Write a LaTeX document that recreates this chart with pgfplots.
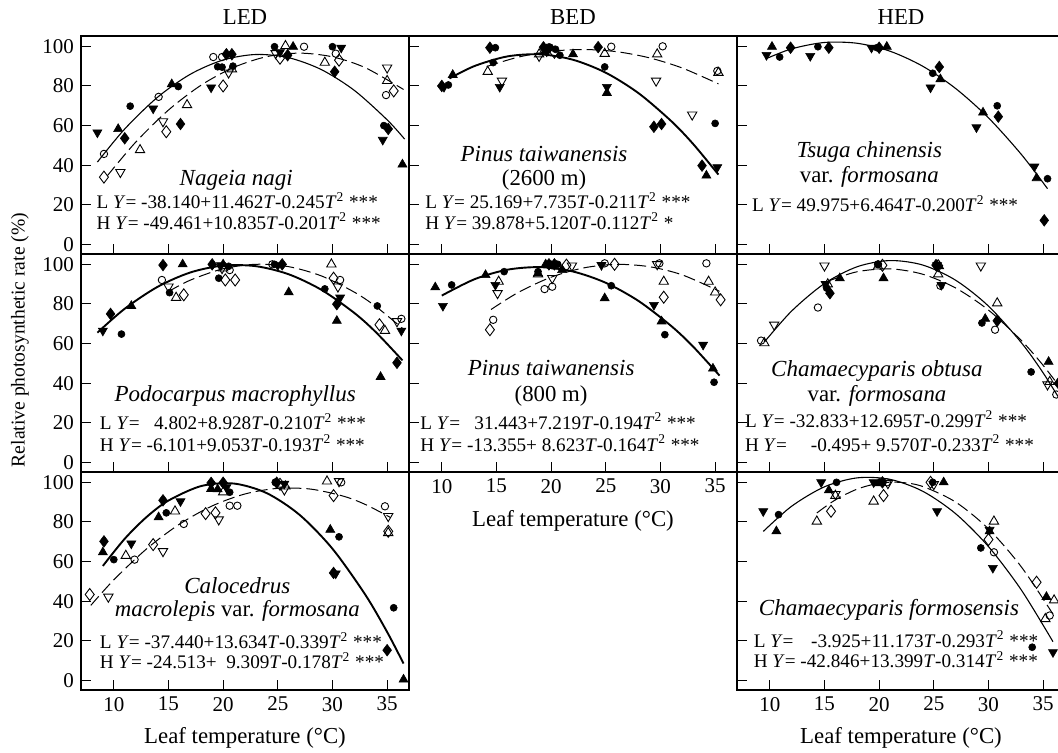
\documentclass[border=0pt]{standalone}
\usepackage{pgfplots}
\pgfplotsset{compat=1.18}
\usepackage{fontspec}
\setmainfont{Liberation Serif}
\newcommand\fT{\fontsize{10.5}{12}\selectfont}
\newcommand\fE{\fontsize{9.6}{11}\selectfont}
\newcommand\fS{\fontsize{11.5}{13}\selectfont\itshape}
\newcommand\fL{\fontsize{11.4}{13}\selectfont}
\newcommand\fY{\fontsize{9.8}{11}\selectfont}
\newcommand\Y{\textit{Y}}
\newcommand\T{\textit{T}}
\newcommand\TT{\textit{T}\textsuperscript{2}}
\tikzset{eqn/.style={font=\fE, anchor=west, inner sep=0pt}}
\pgfplotsset{
 panel/.style={
  width=164pt, height=109pt, scale only axis,
  xmin=7, xmax=37, ymin=-4.8, ymax=105.2,
  xtick={10,15,...,35}, ytick={0,20,...,100},
  tick align=inside, xtick pos=bottom, ytick pos=left,
  major tick length=5pt,
  axis line style={line width=0.6pt},
  tick style={line width=0.5pt, black},
  ticklabel style={font=\fT},
  /pgf/number format/assume math mode=true,
  clip=false, anchor=north west,
 },
 noxl/.style={xticklabels={}},
 noyl/.style={yticklabels={}},
 Lc/.style={only marks, mark=*, mark size=1.75pt, mark options={draw=black, fill=black, line width=0.3pt}},
 Lu/.style={only marks, mark=triangle*, mark size=2.6pt, mark options={draw=black, fill=black, line width=0.3pt}},
 Ld/.style={only marks, mark=triangle*, mark size=2.6pt, mark options={draw=black, fill=black, line width=0.3pt, rotate=180}},
 Lm/.style={only marks, mark=diamond*, mark size=2.9pt, mark options={draw=black, fill=black, line width=0.3pt}},
 Hc/.style={only marks, mark=o, mark size=1.85pt, mark options={draw=black, line width=0.45pt}},
 Hu/.style={only marks, mark=triangle, mark size=2.7pt, mark options={draw=black, line width=0.45pt}},
 Hd/.style={only marks, mark=triangle, mark size=2.7pt, mark options={draw=black, line width=0.45pt, rotate=180}},
 Hm/.style={only marks, mark=diamond, mark size=3pt, mark options={draw=black, line width=0.45pt}},
 Lthin/.style={black, line width=0.55pt, smooth, no marks},
 Lthick/.style={black, line width=0.95pt, smooth, no marks},
 Hfit/.style={black, line width=0.5pt, dash pattern=on 6pt off 2.5pt, smooth, no marks},
}
\begin{document}
\begin{tikzpicture}
% ---------- Row 1, LED: Nageia nagi
\begin{axis}[panel, noxl, at={(40.5pt,-18pt)}]
\addplot[Lthin] coordinates {(8.5,41.59) (11,58.30) (14,74.31) (17,85.91) (20,93.10) (23,95.88) (26,94.25) (29,88.21) (32,77.76) (35,62.91) (36.6,53.18)};
\addplot[Hfit] coordinates {(9.4,34.63) (12,51.62) (15,67.84) (18,80.45) (21,89.43) (24,94.80) (27,96.56) (30,94.69) (33,89.21) (36.5,78.23)};
\addplot[Lc] coordinates {(11.5,69.8) (15.9,79.7) (19.5,89.7) (19.9,89.5) (20.9,90.0) (24.7,99.8) (30.0,99.8) (34.7,60.0)};
\addplot[Lu] coordinates {(10.4,58.3) (15.3,80.9) (26.4,99.8) (36.4,40.4)};
\addplot[Ld] coordinates {(8.5,56.5) (13.6,68.6) (18.9,79.2) (25.2,97.0) (30.8,99.3) (34.6,52.8)};
\addplot[Lm] coordinates {(11.0,53.6) (16.1,60.8) (20.3,96.0) (20.8,96.0) (25.9,95.5) (30.2,87.2) (35.1,58.3)};
\addplot[Hc] coordinates {(9.1,45.7) (14.1,74.5) (19.1,94.6) (19.9,94.6) (27.4,99.8) (30.3,96.3) (34.9,75.4)};
\addplot[Hu] coordinates {(12.4,47.7) (16.7,70.4) (20.8,88.5) (25.7,100.2) (29.3,91.8) (35.0,82.6)};
\addplot[Hd] coordinates {(10.6,36.5) (14.5,62.1) (20.5,86.7) (24.8,96.5) (35.0,89.2)};
\addplot[Hm] coordinates {(9.1,34.0) (14.8,56.9) (20.0,80.0) (25.2,94.0) (30.6,93.0) (35.6,77.5)};
\node[font=\fS] at (axis cs:21.2,32.6) {Nageia nagi};
\node[eqn] at (axis cs:8.4,22.0) {L \Y= -38.140+11.462\T-0.245\TT\ ***};
\node[eqn] at (axis cs:8.4,11.8) {H \Y= -49.461+10.835\T-0.201\TT\ ***};
\end{axis}
% ---------- Row 1, BED: Pinus taiwanensis 2600 m
\begin{axis}[panel, noxl, noyl, at={(204.5pt,-18pt)}]
\addplot[Lthick] coordinates {(10.7,83.78) (13,90.07) (16,94.91) (19,95.96) (22,93.22) (25,86.67) (28,76.33) (31,62.18) (33,50.65) (35.3,35.29)};
\addplot[Hfit] coordinates {(14.1,89.80) (17,94.55) (20,97.48) (23,98.39) (26,97.29) (29,94.17) (32,89.03) (35.3,81.05)};
\addplot[Lc] coordinates {(10.6,80.5) (14.9,99.3) (14.7,91.8) (19.9,99.5) (20.4,98.5) (20.8,95.5) (24.9,89.6) (35.0,61.1)};
\addplot[Lu] coordinates {(11.0,85.6) (19.5,98.0) (22.0,96.0) (25.1,76.5) (34.2,34.8)};
\addplot[Ld] coordinates {(10.2,79.5) (15.3,79.5) (19.6,97.5) (25.1,79.5) (35.2,39.0)};
\addplot[Lm] coordinates {(10.0,80.0) (14.4,99.3) (19.3,99.5) (24.3,99.6) (29.4,59.4) (30.1,60.8) (33.8,39.8)};
\addplot[Hc] coordinates {(19.8,99.5) (25.5,99.8) (30.2,100.0) (35.2,87.6)};
\addplot[Hu] coordinates {(14.2,87.2) (18.9,96.0) (24.9,96.3) (29.7,96.0) (35.3,86.7)};
\addplot[Hd] coordinates {(15.5,82.6) (18.9,95.1) (29.6,82.6) (32.9,65.5)};
\addplot[Hm] coordinates {(19.6,98.0) (20.3,97.0)};
\node[font=\fS] at (axis cs:19.35,45.8) {Pinus taiwanensis};
\node[font=\fL] at (axis cs:19.35,32.3) {(2600 m)};
\node[eqn] at (axis cs:8.45,22.0) {L \Y= 25.169+7.735\T-0.211\TT\ ***};
\node[eqn] at (axis cs:8.45,11.8) {H \Y= 39.878+5.120\T-0.112\TT\ *};
\end{axis}
% ---------- Row 1, HED: Tsuga chinensis var. formosana
\begin{axis}[panel, noxl, noyl, at={(368.5pt,-18pt)}]
\addplot[Lthin] coordinates {(9.6,93.60) (12,98.74) (15,101.94) (18,101.53) (21,97.52) (24,89.91) (27,78.70) (30,63.90) (33,45.49) (35.4,28.17)};
\addplot[Lc] coordinates {(10.9,94.6) (14.4,99.8) (19.8,99.3) (24.9,86.4) (30.8,70.0) (35.4,33.2)};
\addplot[Lu] coordinates {(10.2,99.8) (20.7,99.8) (25.6,83.4) (29.5,66.6) (34.4,33.5)};
\addplot[Ld] coordinates {(9.7,95.6) (13.7,95.1) (19.3,99.3) (24.7,79.2) (28.9,59.1) (34.2,39.3)};
\addplot[Lm] coordinates {(11.9,99.3) (15.4,99.3) (20.0,99.3) (25.5,89.6) (30.9,64.5) (35.1,12.2)};
\node[font=\fS] at (axis cs:19.1,46.5) {Tsuga chinensis};
\node[font=\fL] at (axis cs:19.1,34.0) {var. \textit{formosana}};
\node[eqn] at (axis cs:8.35,20.6) {L \Y= 49.975+6.464\T-0.200\TT\ ***};
\end{axis}
% ---------- Row 2, LED: Podocarpus macrophyllus
\begin{axis}[panel, noxl, at={(40.5pt,-127pt)}]
\addplot[Lthick] coordinates {(8.5,65.52) (11,77.60) (14,88.63) (17,95.89) (20,99.36) (23,99.06) (26,94.97) (29,87.10) (32,75.46) (34,65.59) (36.4,51.54)};
\addplot[Hfit] coordinates {(15,86.27) (17,92.02) (20,97.76) (23,100.02) (26,98.81) (29,94.12) (32,85.96) (34,78.59) (36.4,67.71)};
\addplot[Lc] coordinates {(10.7,64.8) (15.1,85.7) (19.6,93.0) (20.5,99.0) (24.7,100) (29.3,87.6) (34.1,79.0)};
\addplot[Lu] coordinates {(11.6,79.0) (16.3,100) (20.0,100) (26.0,85.9) (30.4,71.5) (34.4,43.2)};
\addplot[Ld] coordinates {(9.0,66.5) (19.8,99.5) (25.0,99.5) (30.7,83.2) (36.3,66.5)};
\addplot[Lm] coordinates {(9.7,75.0) (14.5,99.6) (19.0,100) (25.4,100) (30.4,79.9) (35.9,50.3)};
\addplot[Hc] coordinates {(14.4,92.1) (20.6,97.1) (24.5,100) (30.7,92.1) (36.3,72.5)};
\addplot[Hu] coordinates {(15.7,83.2) (20.0,98.0) (29.9,100) (34.8,66.5)};
\addplot[Hd] coordinates {(15.0,88.7) (19.9,98.0) (30.5,88.7) (35.9,71.2)};
\addplot[Hm] coordinates {(16.4,84.6) (20.2,92.1) (21.1,92.1) (30.1,93.0) (34.3,69.5)};
\node[font=\fS] at (axis cs:21.1,33.5) {Podocarpus macrophyllus};
\node[eqn] at (axis cs:8.7,20.6) {L \Y= \hphantom{-}\,4.802+8.928\T-0.210\TT\ ***};
\node[eqn] at (axis cs:8.7,9.7) {H \Y= -6.101+9.053\T-0.193\TT\ ***};
\end{axis}
% ---------- Row 2, BED: Pinus taiwanensis 800 m
\begin{axis}[panel, noyl, at={(204.5pt,-127pt)}]
\addplot[Lthick] coordinates {(10,84.23) (13,92.50) (16,97.28) (19,98.57) (22,96.37) (25,90.67) (28,81.48) (31,68.80) (33,58.40) (35.4,43.88)};
\addplot[Hfit] coordinates {(14.5,77.20) (17,85.84) (20,93.51) (23,98.22) (26,99.98) (29,98.79) (32,94.65) (35.4,86.38)};
\addplot[Lc] coordinates {(10.9,89.6) (15.7,96.3) (18.8,96.3) (20.0,100) (20.6,100) (25.5,89.2) (30.4,64.5) (34.9,40.5)};
\addplot[Lu] coordinates {(9.4,88.4) (14.0,94.6) (18.8,95.5) (19.5,100) (21.0,97.1) (24.9,82.9) (30.1,71.2) (34.8,47.4)};
\addplot[Ld] coordinates {(10.1,79.0) (14.9,89.6) (24.6,99.6) (29.4,79.5) (33.9,59.4)};
\addplot[Lm] coordinates {(19.8,100) (20.3,100)};
\addplot[Hc] coordinates {(14.7,72.0) (19.4,87.5) (20.1,88.7) (24.9,100.5) (29.9,100.5) (34.2,100.5)};
\addplot[Hu] coordinates {(15.2,91.3) (18.8,95.0) (20.5,99.0) (30.3,91.3) (34.4,91.3) (35.0,85.9)};
\addplot[Hd] coordinates {(15.1,85.4) (20.1,93.0) (21.9,99.3) (29.7,100)};
\addplot[Hm] coordinates {(14.4,67.0) (21.4,99.6) (25.8,100) (30.3,83.4) (35.5,82.1)};
\node[font=\fS] at (axis cs:20.0,47.7) {Pinus taiwanensis};
\node[font=\fL] at (axis cs:20.0,33.5) {(800 m)};
\node[eqn] at (axis cs:8.0,20.9) {L \Y= \hphantom{-}\,31.443+7.219\T-0.194\TT\ ***};
\node[eqn] at (axis cs:8.0,9.7) {H \Y= -13.355+ 8.623\T-0.164\TT\ ***};
\end{axis}
% ---------- Row 2, HED: Chamaecyparis obtusa var. formosana
\begin{axis}[panel, noxl, noyl, at={(368.5pt,-127pt)}]
\addplot[Lthin] coordinates {(9.5,60.78) (12,76.45) (15,90.32) (18,98.80) (21,101.90) (24,99.62) (27,91.96) (30,78.92) (33,60.49) (35,45.22) (37,27.55)};
\addplot[Hfit] coordinates {(15.5,91.86) (18,96.27) (21,97.72) (24,94.98) (27,88.04) (30,76.91) (33,61.58) (35,49.03) (37,34.62)};
\addplot[Lc] coordinates {(15.2,88.0) (19.9,100) (29.4,70.4) (33.9,45.7)};
\addplot[Lu] coordinates {(16.4,93.0) (20.4,93.0) (25.5,99.0) (29.7,72.5) (35.5,50.8)};
\addplot[Ld] coordinates {(15.1,90.0) (25.7,89.6) (25.3,99.5)};
\addplot[Lm] coordinates {(15.5,85.4) (25.2,99.6) (30.8,71.5) (36.4,40.0)};
\addplot[Hc] coordinates {(9.2,61.5) (14.4,78.2) (19.9,100) (25.6,89.2) (30.6,67.0) (36.2,34.3)};
\addplot[Hu] coordinates {(9.5,60.3) (15.3,90.0) (19.9,99.0) (25.4,95.0) (30.8,80.4) (35.6,40.7)};
\addplot[Hd] coordinates {(10.4,69.5) (15.0,99.3) (29.3,99.3) (35.4,39.3)};
\addplot[Hm] coordinates {(20.3,99.5) (25.4,99.3)};
\node[font=\fS] at (axis cs:19.8,46.4) {Chamaecyparis obtusa};
\node[font=\fL] at (axis cs:19.8,33.5) {var. \textit{formosana}};
\node[eqn] at (axis cs:7.7,21.8) {L \Y= -32.833+12.695\T-0.299\TT\ ***};
\node[eqn] at (axis cs:7.7,9.7) {H \Y= \hphantom{-3}\,-0.495+ 9.570\T-0.233\TT\ ***};
\end{axis}
% ---------- Row 3, LED: Calocedrus macrolepis var. formosana
\begin{axis}[panel, at={(40.5pt,-236pt)}]
\addplot[Lthick] coordinates {(9,57.81) (11,71.52) (13,82.51) (15,90.80) (18,98.14) (21,99.38) (24,94.51) (27,83.55) (30,66.48) (33,43.31) (35,24.48) (36.5,8.57)};
\addplot[Hfit] coordinates {(7.9,37.92) (10,50.78) (13,66.42) (16,78.86) (19,88.10) (22,94.13) (25,96.96) (28,96.59) (31,93.01) (33,88.84) (35.3,82.29)};
\addplot[Lc] coordinates {(10.0,61.0) (14.8,84.6) (20.6,95.0) (24.8,100) (30.6,72.5) (35.6,36.7)};
\addplot[Lu] coordinates {(9.0,64.7) (14.1,82.4) (18.9,96.7) (19.5,96.5) (29.8,76.1) (36.5,0.5)};
\addplot[Ld] coordinates {(11.6,69.1) (16.1,90.4) (20.3,97.5) (25.6,99.3) (30.3,54.0)};
\addplot[Lm] coordinates {(9.1,70.2) (14.5,90.9) (18.9,99.7) (20.0,99.8) (24.9,99.8) (30.1,54.3) (35.0,15.3)};
\addplot[Hc] coordinates {(11.9,61.0) (16.4,79.0) (20.6,88.2) (21.3,88.2) (24.8,100) (30.8,100) (34.8,87.9)};
\addplot[Hu] coordinates {(11.1,63.0) (15.6,85.4) (20.0,95.0) (25.7,98.0) (29.5,100.5) (35.1,74.5)};
\addplot[Hd] coordinates {(9.5,42.2) (14.5,65.2) (19.6,81.2) (25.6,96.3) (30.6,100.5) (35.1,82.9)};
\addplot[Hm] coordinates {(7.8,43.4) (13.6,68.6) (18.4,84.2) (19.3,84.6) (25.2,99.0) (30.1,93.3) (35.1,75.3)};
\node[font=\fS] at (axis cs:21.3,47.9) {Calocedrus};
\node[font=\fL] at (axis cs:21.3,34.9) {\textit{macrolepis} var. \textit{formosana}};
\node[eqn] at (axis cs:8.7,20.0) {L \Y= -37.440+13.634\T-0.339\TT\ ***};
\node[eqn] at (axis cs:8.7,10.0) {H \Y= -24.513+\ \ 9.309\T-0.178\TT\ ***};
\end{axis}
% ---------- Row 3, HED: Chamaecyparis formosensis
\begin{axis}[panel, noyl, at={(368.5pt,-236pt)}]
\addplot[Lthin] coordinates {(9.4,75.21) (12,87.96) (15,97.75) (18,102.26) (21,101.50) (24,95.46) (27,84.15) (30,67.57) (33,45.71) (35.9,19.57)};
\addplot[Hfit] coordinates {(14.3,84.55) (16,91.15) (18,96.60) (20,99.53) (22,99.96) (24,97.87) (27,90.02) (30,76.52) (33,57.38) (35.9,33.49)};
\addplot[Lc] coordinates {(10.8,83.7) (16.1,100) (20.1,100) (24.9,100) (29.3,66.9) (34.0,16.8)};
\addplot[Lu] coordinates {(10.6,75.3) (15.4,96.0) (20.0,99.5) (25.9,100) (30.1,75.3) (35.3,42.2)};
\addplot[Ld] coordinates {(9.4,85.4) (14.7,100) (19.5,100) (25.3,85.4) (30.1,76.0) (30.4,56.8) (35.9,14.3)};
\addplot[Lm] coordinates {(20.3,100)};
\addplot[Hc] coordinates {(20.7,100) (30.5,64.7) (35.6,32.8)};
\addplot[Hu] coordinates {(14.3,80.3) (16.0,93.3) (19.5,90.4) (30.5,80.3) (35.2,31.1) (36.0,40.5)};
\addplot[Hd] coordinates {(16.0,94.0) (20.8,99.5) (25.0,99.0)};
\addplot[Hm] coordinates {(15.6,85.4) (20.4,93.3) (24.7,100) (30.0,71.1) (34.4,49.6)};
\node[font=\fS] at (axis cs:20.9,35.8) {Chamaecyparis formosensis};
\node[eqn] at (axis cs:8.5,20.9) {L \Y= \hphantom{4}\,-3.925+11.173\T-0.293\TT\ ***};
\node[eqn] at (axis cs:8.5,10.4) {H \Y= -42.846+13.399\T-0.314\TT\ ***};
\end{axis}
% ---------- titles and labels
\node[font=\fL] at (122.5pt,-8.5pt) {LED};
\node[font=\fL] at (286.5pt,-8.5pt) {BED};
\node[font=\fL] at (450.5pt,-8.5pt) {HED};
\node[font=\fL] at (122.5pt,-369pt) {Leaf temperature (°C)};
\node[font=\fL] at (286.5pt,-260.5pt) {Leaf temperature (°C)};
\node[font=\fL] at (450.5pt,-369pt) {Leaf temperature (°C)};
\node[font=\fY, rotate=90] at (10pt,-170pt) {Relative photosynthetic rate (\%)};
\pgfresetboundingbox
\useasboundingbox (0pt,0pt) rectangle (529pt,-376pt);
\end{tikzpicture}
\end{document}
